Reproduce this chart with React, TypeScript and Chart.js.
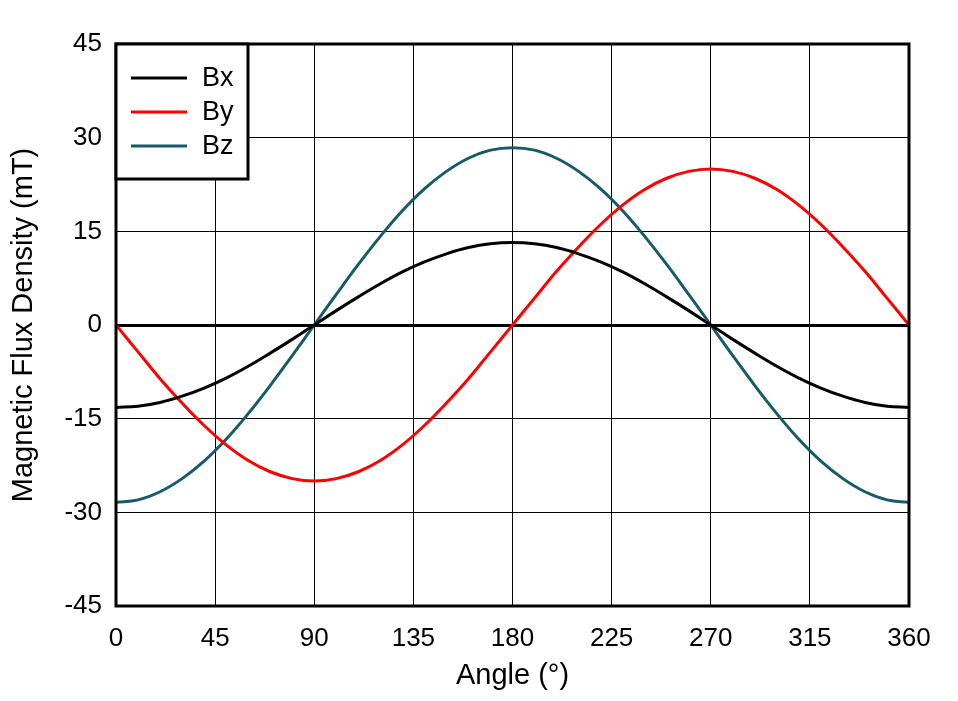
import React, { useEffect, useRef } from "react";
import { Chart, registerables } from "chart.js";

Chart.register(...registerables);

const angles = [0, 10, 20, 30, 40, 50, 60, 70, 80, 90, 100, 110, 120, 130, 140, 150, 160, 170, 180, 190, 200, 210, 220, 230, 240, 250, 260, 270, 280, 290, 300, 310, 320, 330, 340, 350, 360];
const bx = [-13.2, -13.0, -12.4, -11.4, -10.1, -8.5, -6.6, -4.5, -2.3, 0, 2.3, 4.5, 6.6, 8.5, 10.1, 11.4, 12.4, 13.0, 13.2, 13.0, 12.4, 11.4, 10.1, 8.5, 6.6, 4.5, 2.3, 0, -2.3, -4.5, -6.6, -8.5, -10.1, -11.4, -12.4, -13.0, -13.2];
const by = [0, -4.3, -8.6, -12.5, -16.1, -19.2, -21.7, -23.5, -24.6, -25, -24.6, -23.5, -21.7, -19.2, -16.1, -12.5, -8.6, -4.3, 0, 4.3, 8.6, 12.5, 16.1, 19.2, 21.7, 23.5, 24.6, 25, 24.6, 23.5, 21.7, 19.2, 16.1, 12.5, 8.6, 4.3, 0];
const bz = [-28.4, -28.0, -26.7, -24.6, -21.8, -18.3, -14.2, -9.7, -4.9, 0, 4.9, 9.7, 14.2, 18.3, 21.8, 24.6, 26.7, 28.0, 28.4, 28.0, 26.7, 24.6, 21.8, 18.3, 14.2, 9.7, 4.9, 0, -4.9, -9.7, -14.2, -18.3, -21.8, -24.6, -26.7, -28.0, -28.4];
const seriesLabels = ["Bx", "By", "Bz"];
const seriesColors = ["#000000", "#ff0000", "#175a68"];
const xTitle = "Angle (°)";
const yTitle = "Magnetic Flux Density (mT)";

const FONT = "'Liberation Sans', Arial, sans-serif";

const framePlugin = {
  id: "frameAndLegend",
  afterDatasetsDraw(chart: any) {
    const { ctx, chartArea } = chart;
    ctx.save();
    ctx.strokeStyle = "#000";
    ctx.lineWidth = 3;
    ctx.strokeRect(chartArea.left, chartArea.top, chartArea.right - chartArea.left, chartArea.bottom - chartArea.top);
    const lx = chartArea.left;
    const ly = chartArea.top;
    const lw = 132;
    const lh = 135;
    ctx.fillStyle = "#fff";
    ctx.fillRect(lx, ly, lw, lh);
    ctx.strokeRect(lx, ly, lw, lh);
    ctx.font = `27px ${FONT}`;
    ctx.textBaseline = "middle";
    ctx.textAlign = "left";
    chart.data.datasets.forEach((ds: any, i: number) => {
      const y = ly + 34 + i * 34;
      ctx.strokeStyle = ds.borderColor;
      ctx.lineWidth = 3;
      ctx.beginPath();
      ctx.moveTo(lx + 15, y);
      ctx.lineTo(lx + 71, y);
      ctx.stroke();
      ctx.fillStyle = "#000";
      ctx.fillText(ds.label, lx + 86, y + 1);
    });
    ctx.restore();
  },
};

export default function App() {
  const ref = useRef<HTMLCanvasElement | null>(null);
  useEffect(() => {
    if (!ref.current) return;
    const series = [bx, by, bz];
    const chart = new Chart(ref.current, {
      type: "line",
      data: {
        datasets: series.map((s, i) => ({
          label: seriesLabels[i],
          data: angles.map((a, j) => ({ x: a, y: s[j] })),
          borderColor: seriesColors[i],
          borderWidth: 3,
          pointRadius: 0,
          tension: 0.4,
          fill: false,
        })),
      },
      options: {
        animation: false,
        responsive: false,
        devicePixelRatio: 1,
        layout: { padding: { top: 44, right: 49, left: 0, bottom: 0 } },
        plugins: { legend: { display: false }, tooltip: { enabled: false } },
        scales: {
          x: {
            type: "linear",
            min: 0,
            max: 360,
            afterFit: (s: any) => { s.height = 95; },
            ticks: { stepSize: 45, color: "#000", font: { family: FONT, size: 26 }, padding: 17, maxRotation: 0 },
            grid: { color: "#000", lineWidth: 1, drawTicks: false },
            border: { display: false },
            title: { display: true, text: xTitle, color: "#000", font: { family: FONT, size: 29 }, padding: { top: 0, bottom: 8 } },
          },
          y: {
            type: "linear",
            min: -45,
            max: 45,
            afterFit: (s: any) => { s.width = 116; },
            ticks: { stepSize: 15, color: "#000", font: { family: FONT, size: 26 }, padding: 14 },
            grid: {
              color: "#000",
              lineWidth: (c: any) => (c.tick && c.tick.value === 0 ? 3 : 1),
              drawTicks: false,
            },
            border: { display: false },
            title: { display: true, text: yTitle, color: "#000", font: { family: FONT, size: 29 }, padding: { top: 7, bottom: 0 } },
          },
        },
      },
      plugins: [framePlugin],
    });
    return () => chart.destroy();
  }, []);
  return (
    <div style={{ position: "fixed", left: 0, top: 0, width: 958, height: 701, background: "#fff" }}>
      <canvas ref={ref} width={958} height={701} style={{ width: 958, height: 701, display: "block" }} />
    </div>
  );
}
